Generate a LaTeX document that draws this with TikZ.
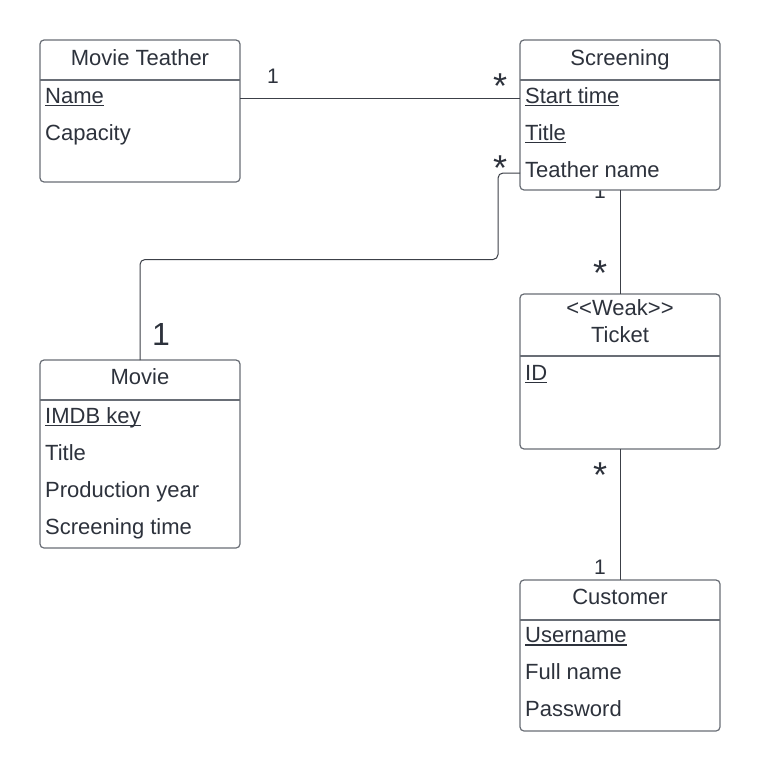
\documentclass[tikz,border=0pt]{standalone}
\usepackage{fontspec}
\setmainfont{Liberation Sans}
\definecolor{txt}{RGB}{45,50,60}
\definecolor{boxline}{RGB}{105,110,118}
\definecolor{conline}{RGB}{60,64,72}
\newcommand\keyattr[1]{\setbox0\hbox{#1}\rlap{\color{txt}\rule[-3pt]{\wd0}{1.3pt}}\box0}
\tikzset{
  entity/.style={draw=boxline, fill=white, line width=1.2pt, rounded corners=4pt, minimum width=200pt, inner sep=0pt, outer sep=0pt},
  divider/.style={draw=boxline, line width=1.2pt},
  conn/.style={draw=conline, line width=1pt},
  title/.style={anchor=base, inner sep=0pt, text=txt, font=\fontsize{22}{26}\selectfont},
  attr/.style={anchor=base west, inner sep=0pt, text=txt, font=\fontsize{22}{26}\selectfont},
  mult/.style={anchor=base, inner sep=0pt, text=txt, font=\fontsize{21}{24}\selectfont},
  multbig/.style={anchor=base, inner sep=0pt, text=txt, font=\fontsize{32}{36}\selectfont},
  star/.style={inner sep=0pt, text=txt, font=\fontsize{36}{40}\selectfont},
}
\begin{document}
\begin{tikzpicture}[x=1pt,y=-1pt]
\useasboundingbox (0,0) rectangle (760,771);
\fill[white] (0,0) rectangle (760,771);
% multiplicity label partly hidden under Screening box
\node[mult] (m-sc-tk) at (600,198) {1};
% entity boxes
\node[entity, minimum height=142pt] (mt) at (140,111) {};
\node[entity, minimum height=150pt] (sc) at (620,115) {};
\node[entity, minimum height=188pt] (mv) at (140,454) {};
\node[entity, minimum height=155pt] (tk) at (620,371.5) {};
\node[entity, minimum height=151pt] (cu) at (620,655.5) {};
% dividers
\draw[divider] (mt.west |- 0,80) -- (mt.east |- 0,80);
\draw[divider] (sc.west |- 0,80) -- (sc.east |- 0,80);
\draw[divider] (mv.west |- 0,400) -- (mv.east |- 0,400);
\draw[divider] (tk.west |- 0,356) -- (tk.east |- 0,356);
\draw[divider] (cu.west |- 0,620) -- (cu.east |- 0,620);
% Movie Teather
\node[title] (mt-t) at (140,65) {Movie Teather};
\node[attr] (mt-a1) at (45,103) {\keyattr{Name}};
\node[attr] (mt-a2) at (45,140) {Capacity};
% Screening
\node[title] (sc-t) at (620,65) {Screening};
\node[attr] (sc-a1) at (525,103) {\keyattr{Start time}};
\node[attr] (sc-a2) at (525,140) {\keyattr{Title}};
\node[attr] (sc-a3) at (525,177) {Teather name};
% Movie
\node[title] (mv-t) at (140,384) {Movie};
\node[attr] (mv-a1) at (45,423) {\keyattr{IMDB key}};
\node[attr] (mv-a2) at (45,460) {Title};
\node[attr] (mv-a3) at (45,497) {Production year};
\node[attr] (mv-a4) at (45,534) {Screening time};
% Ticket
\node[title] (tk-s) at (620,315) {{<}{<}Weak{>}{>}};
\node[title] (tk-t) at (620,342.5) {Ticket};
\node[attr] (tk-a1) at (525,380) {\keyattr{ID}};
% Customer
\node[title] (cu-t) at (620,604) {Customer};
\node[attr] (cu-a1) at (525,642.5) {\keyattr{Username}};
\node[attr] (cu-a2) at (525,679) {Full name};
\node[attr] (cu-a3) at (525,716) {Password};
% connectors
\draw[conn] (mt.east |- 0,98) -- (sc.west |- 0,98);
\draw[conn, rounded corners=5pt] (sc.west |- 0,173) -| (498,259.5) -| (mv.north);
\draw[conn] (sc.south) -- (tk.north);
\draw[conn] (tk.south) -- (cu.north);
% multiplicities
\node[mult] (m-mt) at (273,83) {1};
\node[star] (s-sc1) at (500,86) {*};
\node[star] (s-sc2) at (500,168) {*};
\node[multbig] (m-mv) at (161,345) {1};
\node[star] (s-tk1) at (600,273) {*};
\node[star] (s-tk2) at (600,475) {*};
\node[mult] (m-cu) at (600,574) {1};
\end{tikzpicture}
\end{document}
